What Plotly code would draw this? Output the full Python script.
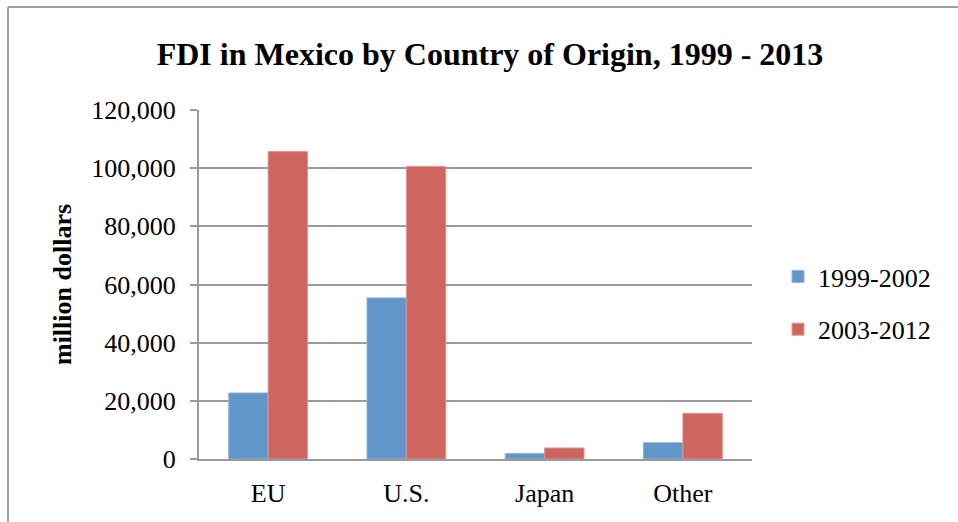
import plotly.graph_objects as go

categories = ["EU", "U.S.", "Japan", "Other"]
series_names = ["1999-2002", "2003-2012"]
values_1999_2002 = [22700, 55400, 1850, 5600]
values_2003_2012 = [105700, 100600, 3800, 15700]
y_tick_values = [0, 20000, 40000, 60000, 80000, 100000, 120000]
y_tick_labels = ["0", "20,000", "40,000", "60,000", "80,000", "100,000", "120,000"]

W, H = 958, 522
L, R, T, B = 199, 206, 110, 63
pw, ph = W - L - R, H - T - B

FONT = "Liberation Serif, Times New Roman, serif"
GRID = "#9a9a9a"

fig = go.Figure()
fig.add_trace(go.Bar(x=categories, y=values_1999_2002, name=series_names[0],
                     marker=dict(color="#6096CA", line=dict(color="#8db4dc", width=1)),
                     legendgroup="a"))
fig.add_trace(go.Bar(x=categories, y=values_2003_2012, name=series_names[1],
                     marker=dict(color="#CC665F", line=dict(color="#e09590", width=1)),
                     legendgroup="b"))

def px_x(p):
    return (p - L) / pw

def px_y(p):
    return 1 - (p - T) / ph

fig.update_layout(
    width=W, height=H,
    margin=dict(l=L, r=R, t=T, b=B),
    paper_bgcolor="white", plot_bgcolor="white",
    font=dict(family=FONT, size=26, color="black"),
    barmode="group", bargap=0.43, bargroupgap=0,
    title=dict(text="<b>FDI in Mexico by Country of Origin, 1999 - 2013</b>",
               font=dict(family=FONT, size=32, color="black"),
               x=490 / W, xanchor="center", y=1 - 54 / H, yanchor="middle"),
    legend=dict(x=px_x(778), xanchor="left", y=px_y(303), yanchor="middle",
                traceorder="grouped", tracegroupgap=16, itemwidth=30,
                font=dict(family=FONT, size=26, color="black"),
                bgcolor="rgba(0,0,0,0)"),
    xaxis=dict(showgrid=False, showline=True, linecolor=GRID, linewidth=2,
               ticks="", tickfont=dict(family=FONT, size=26, color="black"),
               ticklabelstandoff=10),
    yaxis=dict(range=[0, 120000], tickvals=y_tick_values, ticktext=y_tick_labels,
               showgrid=True, gridcolor=GRID, gridwidth=2,
               showline=True, linecolor=GRID, linewidth=2,
               ticks="outside", ticklen=7, tickcolor=GRID, tickwidth=2,
               ticklabelstandoff=9,
               tickfont=dict(family=FONT, size=26, color="black"),
               zeroline=False,
               title=dict(text="<b>million dollars</b>", standoff=12,
                          font=dict(family=FONT, size=26, color="black"))),
    shapes=[
        dict(type="line", xref="paper", yref="paper",
             x0=px_x(8), x1=px_x(960), y0=px_y(7), y1=px_y(7),
             line=dict(color="#a0a0a0", width=2)),
        dict(type="line", xref="paper", yref="paper",
             x0=px_x(8), x1=px_x(8), y0=px_y(7), y1=px_y(524),
             line=dict(color="#a0a0a0", width=2)),
    ],
)

fig.write_html("out.html",
               config={"displayModeBar": False},
               post_script="document.body.style.margin='0';document.body.style.overflow='hidden';")
